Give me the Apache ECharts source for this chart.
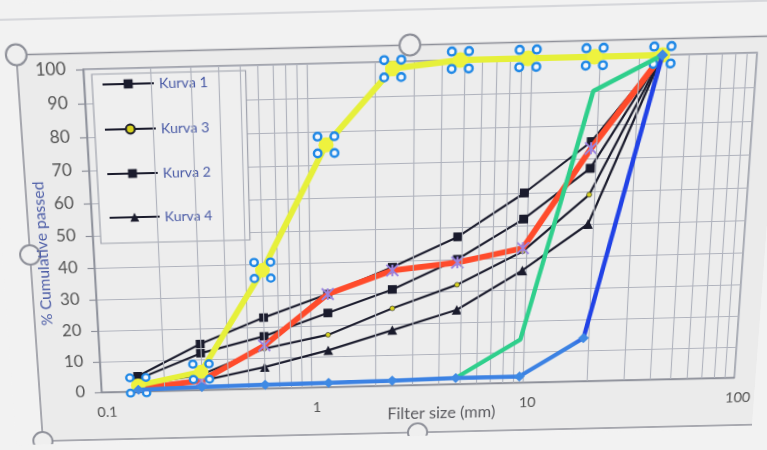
<!DOCTYPE html>
<html>
<head>
<meta charset="utf-8">
<script src="https://cdn.jsdelivr.net/npm/echarts@6/dist/echarts.min.js"></script>
<style>
  html, body { margin: 0; padding: 0; background: #f2f2f2; overflow: hidden; }
  /* the sheet is seen slightly from below and tilted, like a screen photo */
  #chart {
    width: 767px; height: 450px; background: #f2f2f2;
    transform-origin: 50% 50%;
    transform: perspective(1000px) rotateX(-11deg) skewY(-1.4deg);
  }
</style>
</head>
<body>
<div id="chart"></div>
<script>
// Sieve openings (mm) and cumulative % passing for each curve
const sieveSizes = [0.15, 0.3, 0.6, 1.2, 2.4, 4.8, 9.6, 19, 38];

const kurva1 = [5, 15, 23, 30, 38, 47, 60, 75, 100];
const kurva2 = [4, 12, 17, 24, 31, 40, 52, 67, 100];
const kurva3 = [2, 5, 13, 17, 25, 32, 42, 59, 100];
const kurva4 = [1, 3, 7, 12, 18, 24, 36, 50, 100];

const gabungan = [1, 3, 14, 30, 37, 39, 43, 73, 100];   // combined grading (red)
const pasir = [2, 6, 38, 76, 98, 100, 100, 100, 100];    // sand (yellow)
const kerikilA = [null, null, null, null, null, 2, 14, 90, 100]; // gravel A (green)
const kerikilB = [0.5, 1, 1.2, 1.4, 1.6, 2, 2, 14, 100];  // gravel B (blue)

const legendOrder = ['Kurva 1', 'Kurva 3', 'Kurva 2', 'Kurva 4'];
const xTickValues = [0.1, 1, 10, 100];
const minorGridValues = [0.2, 0.3, 0.4, 0.5, 0.6, 0.7, 0.8, 0.9,
                         2, 3, 4, 5, 6, 7, 8, 9,
                         20, 30, 40, 50, 60, 70, 80, 90];

const pairs = arr => sieveSizes.map((s, i) => [s, arr[i]]);

const gridColor = '#b0b3bd';
const frameColor = '#8c8f99';
const inkColor = '#1a1b2c';
const sheetColor = '#ebebeb';

// four selection rings arranged around a point
function ring(cx, cy, r) {
  return 'M' + (cx - r) + ',' + cy + 'a' + r + ',' + r + ' 0 1,0 ' + (2 * r) + ',0' +
         'a' + r + ',' + r + ' 0 1,0 ' + (-2 * r) + ',0Z';
}
const handlePath = 'path://' + ring(0, 0, 3.8) + ring(17, 0, 3.8) + ring(0, 17, 3.8) + ring(17, 17, 3.8);
const starPath = 'path://M0,0L10,10M10,0L0,10M5,0L5,10';

function kurvaSeries(name, data, symbol, size, fill) {
  return {
    name: name, type: 'line', data: pairs(data), z: 3,
    symbol: symbol, symbolSize: size, showAllSymbol: true,
    lineStyle: { color: inkColor, width: 2.2 },
    itemStyle: { color: fill || inkColor, borderColor: inkColor, borderWidth: fill ? 0.6 : 0 }
  };
}

// frame selection handles, kept behind the axis titles
function handle(cx, cy) {
  return { type: 'circle', silent: true, z: -10, shape: { cx: cx, cy: cy, r: 10 },
           style: { fill: '#efefef', stroke: '#8e9099', lineWidth: 2 } };
}

const chart = echarts.init(document.getElementById('chart'), null, { renderer: 'canvas' });

const option = {
  backgroundColor: '#f2f2f2',
  animation: false,
  textStyle: { fontFamily: 'Lato, "Liberation Sans", sans-serif' },
  grid: {
    left: 92, right: 22, top: 64, bottom: 56,
    show: true, borderColor: frameColor, borderWidth: 1.4, backgroundColor: '#ededed'
  },
  legend: {
    data: legendOrder,
    orient: 'vertical', left: 100, top: 69,
    itemWidth: 50, itemHeight: 11, itemGap: 30,
    padding: [3, 37, 19, 9],
    backgroundColor: '#efefef', borderColor: '#a0a3ad', borderWidth: 1.2,
    textStyle: { color: '#4a5ba6', fontSize: 14 }
  },
  xAxis: {
    type: 'log', logBase: 10, min: 0.1, max: 100,
    name: 'Filter size (mm)', nameLocation: 'middle', nameGap: 23, nameMoveOverlap: false,
    nameTextStyle: { color: '#5b5b60', fontSize: 17, padding: [0, 0, 0, 50] },
    axisLine: { show: true, lineStyle: { color: frameColor, width: 1.4 } },
    axisTick: { show: false },
    axisLabel: {
      color: '#555', fontSize: 15, margin: 15, padding: [0, 0, 0, 10],
      formatter: v => String(xTickValues.find(t => Math.abs(Math.log10(t) - Math.log10(v)) < 1e-6) ?? v)
    },
    splitLine: { show: true, lineStyle: { color: gridColor, width: 1.2 } }
  },
  yAxis: {
    type: 'value', min: 0, max: 100, interval: 10,
    name: '% Cumulative passed', nameLocation: 'middle', nameGap: 43, nameMoveOverlap: false,
    nameTextStyle: { color: '#4a5ba6', fontSize: 16, padding: [0, 36, 0, 0] },
    axisLine: { show: true, lineStyle: { color: frameColor, width: 1.4 } },
    axisTick: { show: true, length: 7, lineStyle: { color: frameColor, width: 1.2 } },
    axisLabel: { color: '#555', fontSize: 17, margin: 17 },
    splitLine: { show: true, lineStyle: { color: gridColor, width: 1.2 } }
  },
  graphic: [
    { type: 'line', silent: true, z: -20, shape: { x1: 0, y1: 15, x2: 800, y2: 15 },
      style: { stroke: '#cdced3', lineWidth: 1.5 } },
    { type: 'rect', silent: true, z: -20, shape: { x: 28, y: 48.5, width: 800, height: 397.5 },
      style: { fill: sheetColor, stroke: '#8e9099', lineWidth: 1.5 } },
    handle(409, 48.5), handle(28, 48.5), handle(28, 247), handle(28, 446), handle(419, 446)
  ],
  series: [
    {
      name: 'minor-grid', type: 'line', data: [[0.1, 0]], showSymbol: false, silent: true, z: 1,
      lineStyle: { opacity: 0 },
      markLine: {
        silent: true, symbol: 'none', label: { show: false },
        lineStyle: { color: gridColor, width: 1.1, type: 'solid' },
        data: minorGridValues.map(v => ({ xAxis: v }))
      }
    },
    kurvaSeries('Kurva 1', kurva1, 'rect', 9),
    kurvaSeries('Kurva 2', kurva2, 'rect', 9),
    kurvaSeries('Kurva 3', kurva3, 'circle', 5, '#d8d21e'),
    kurvaSeries('Kurva 4', kurva4, 'triangle', 10),
    {
      name: 'Gabungan', type: 'line', data: pairs(gabungan), z: 4,
      symbol: starPath, symbolSize: 12, showAllSymbol: true,
      lineStyle: { color: '#ff4b2b', width: 6 },
      itemStyle: { color: '#a88ce2', borderColor: '#9a84e0', borderWidth: 2 }
    },
    {
      name: 'Pasir', type: 'line', data: pairs(pasir), z: 5, clip: false,
      symbol: 'circle', symbolSize: 15, showAllSymbol: true,
      lineStyle: { color: '#e6f03a', width: 6 },
      itemStyle: { color: '#eef23e' }
    },
    {
      name: 'Pasir-handles', type: 'line', data: pairs(pasir), z: 6, clip: false, silent: true,
      symbol: handlePath, symbolSize: 24, showAllSymbol: true,
      lineStyle: { width: 0, opacity: 0 },
      itemStyle: { color: '#f4f7fc', borderColor: '#1f88e6', borderWidth: 2.4 }
    },
    {
      name: 'Kerikil A', type: 'line', data: pairs(kerikilA), z: 7,
      symbol: 'none', connectNulls: false,
      lineStyle: { color: '#2fcf8c', width: 4.5 }
    },
    {
      name: 'Kerikil B', type: 'line', data: pairs(kerikilB), z: 8,
      symbol: 'diamond', symbolSize: 11, showAllSymbol: true,
      lineStyle: {
        width: 4.5,
        color: {
          type: 'linear', x: 0, y: 0, x2: 0, y2: 1,
          colorStops: [
            { offset: 0, color: '#2142e6' }, { offset: 0.84, color: '#2142e6' },
            { offset: 0.88, color: '#3c82e3' }, { offset: 1, color: '#3c82e3' }
          ]
        }
      },
      itemStyle: { color: '#3f8ae4' }
    }
  ]
};

chart.setOption(option);
</script>
</body>
</html>
